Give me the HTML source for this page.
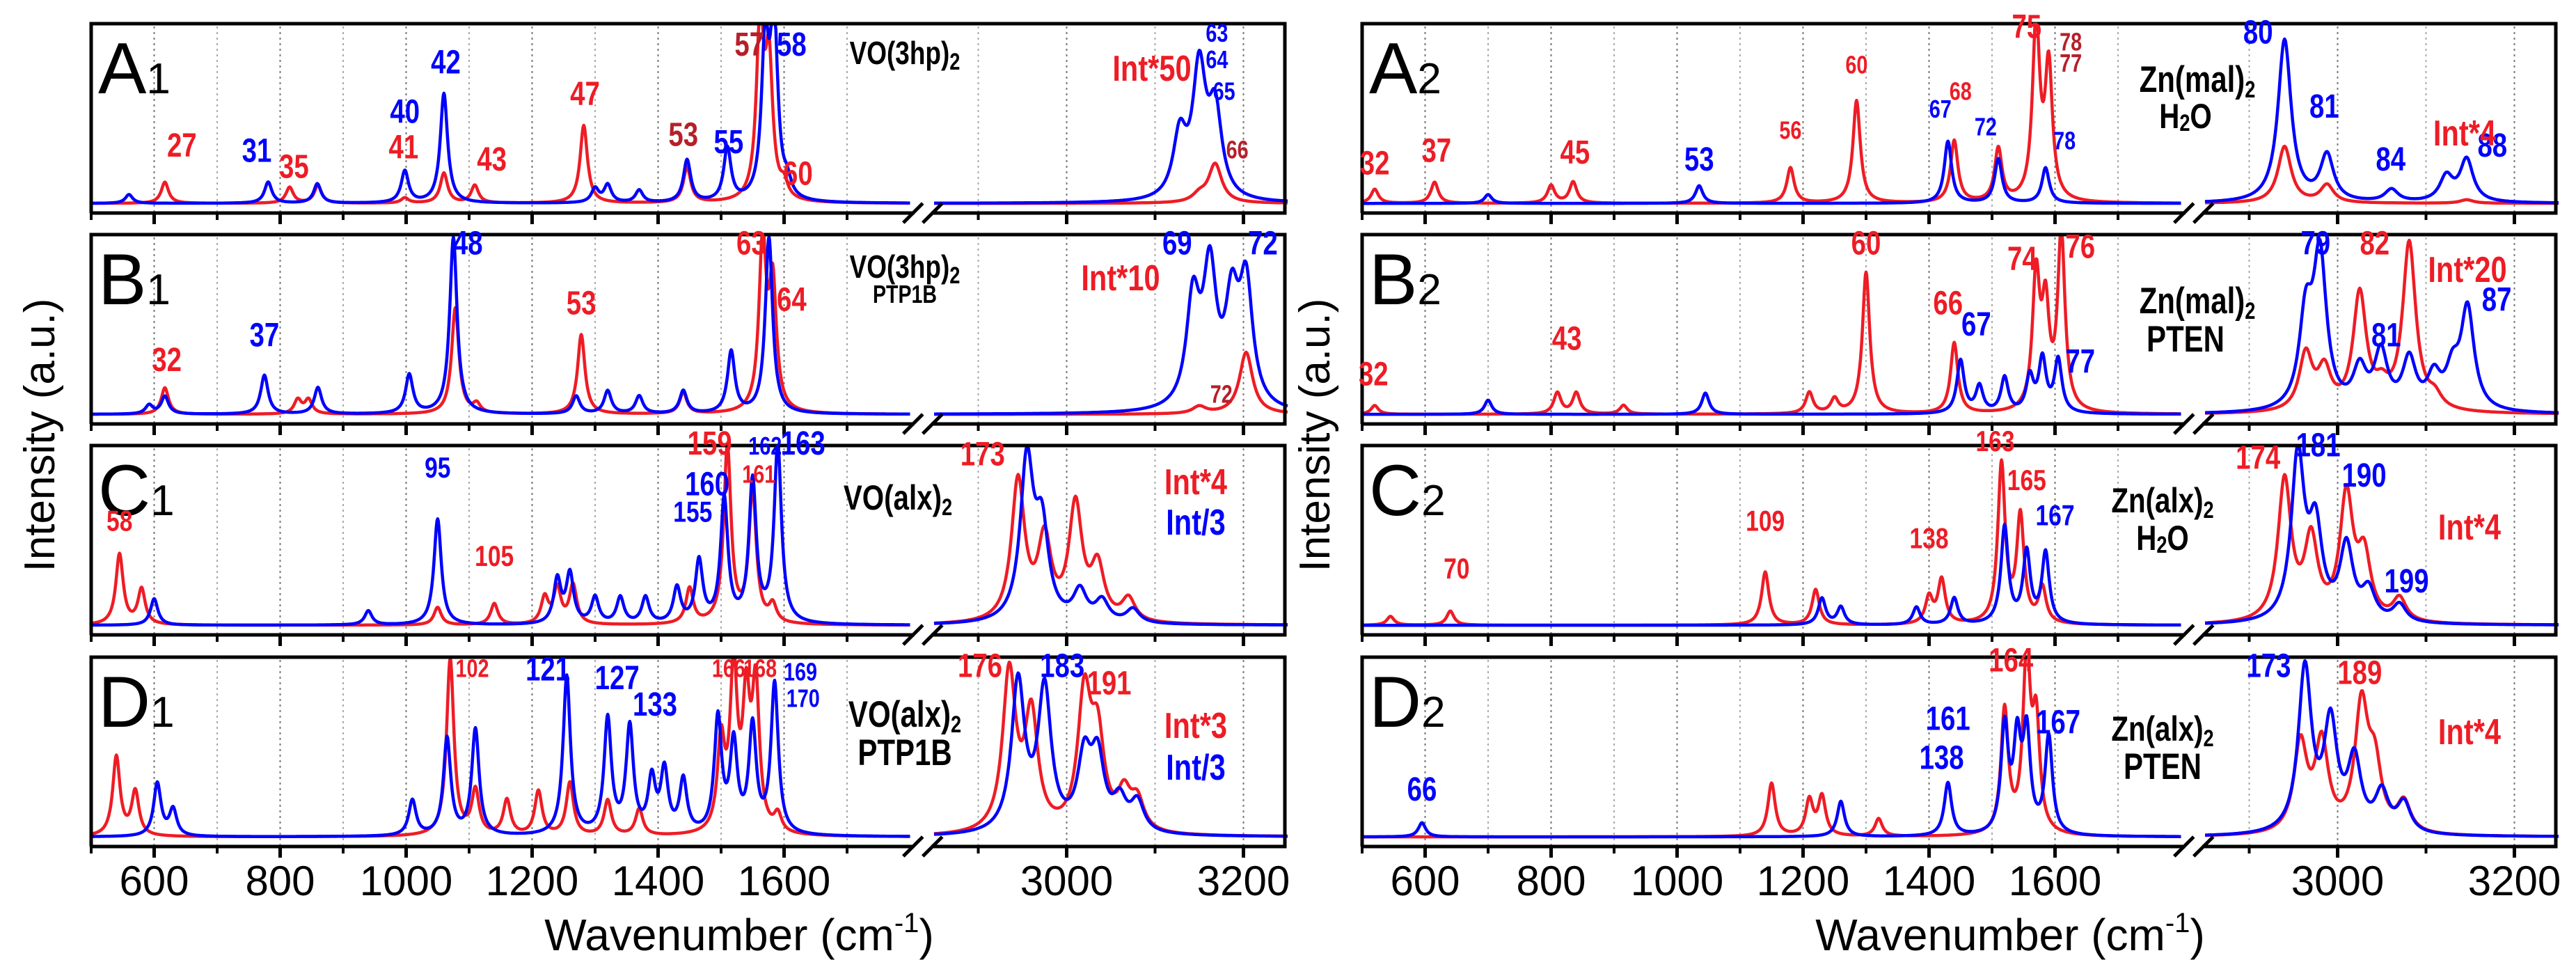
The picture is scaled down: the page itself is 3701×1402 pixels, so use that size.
<!DOCTYPE html>
<html><head><meta charset="utf-8"><style>
html,body{margin:0;padding:0;background:#fff}
svg{display:block}
text{font-family:"Liberation Sans",sans-serif}
.nar{font-family:"Liberation Sans Narrow","Liberation Sans",sans-serif;font-weight:bold}
</style></head><body>
<svg id="fig" width="3701" height="1402" viewBox="0 0 3701 1402" xmlns="http://www.w3.org/2000/svg">
<g id="layer"></g>
</svg>
<script>
// x-axis tick values
const majorTicks = [600, 800, 1000, 1200, 1400, 1600, 3000, 3200];
const minorTicks = [500, 700, 900, 1100, 1300, 1500, 1700, 2900, 3100];
const gridTicks = [600, 700, 800, 900, 1000, 1100, 1200, 1300, 1400, 1500, 1600, 1700, 2900, 3000, 3100, 3200];
// peaks: [center cm-1, relative height]
const A1_red = [[617,0.12],[815,0.09],[860,0.1],[998,0.03],[1060,0.17],[1109,0.1],[1282,0.44],[1446,0.2],[1562,1.0],[1576,0.75],[1600,0.08],[3150,0.04],[3168,0.22]];
const A1_blue = [[560,0.05],[781,0.12],[859,0.11],[998,0.18],[1060,0.62],[1300,0.08],[1320,0.1],[1370,0.07],[1446,0.24],[1510,0.3],[1570,0.85],[1584,1.0],[1605,0.08],[3128,0.35],[3150,0.72],[3168,0.48]];
const B1_red = [[617,0.15],[828,0.08],[845,0.08],[1078,0.6],[1112,0.05],[1278,0.45],[1440,0.12],[1566,0.95],[1582,0.7],[3150,0.04],[3203,0.35]];
const B1_blue = [[592,0.05],[617,0.1],[775,0.22],[860,0.15],[1005,0.22],[1075,1.0],[1270,0.1],[1320,0.13],[1370,0.1],[1440,0.13],[1516,0.35],[1576,1.0],[3143,0.6],[3162,0.75],[3187,0.55],[3203,0.68]];
const C1_red = [[545,0.4],[580,0.2],[1050,0.1],[1140,0.12],[1220,0.15],[1240,0.2],[1265,0.22],[1450,0.2],[1510,1.0],[1550,0.75],[1582,0.1],[2945,0.8],[2975,0.45],[3010,0.65],[3035,0.3],[3070,0.13]];
const C1_blue = [[600,0.15],[940,0.08],[1050,0.6],[1240,0.25],[1260,0.28],[1300,0.15],[1340,0.15],[1380,0.15],[1430,0.2],[1465,0.35],[1505,0.7],[1550,0.8],[1590,1.0],[2955,0.9],[2972,0.5],[3015,0.17],[3040,0.12],[3075,0.08]];
const D1_red = [[540,0.45],[570,0.25],[1070,1.0],[1110,0.25],[1160,0.2],[1210,0.25],[1260,0.3],[1320,0.2],[1370,0.15],[1500,0.5],[1520,0.9],[1540,0.7],[1555,0.8],[1590,0.1],[2935,0.9],[2960,0.65],[3020,0.75],[3035,0.5],[3065,0.2],[3080,0.17]];
const D1_blue = [[605,0.3],[630,0.15],[1010,0.2],[1065,0.55],[1110,0.6],[1255,0.9],[1320,0.65],[1355,0.6],[1390,0.3],[1410,0.35],[1440,0.3],[1495,0.65],[1520,0.5],[1550,0.6],[1585,0.85],[2945,0.85],[2975,0.8],[3020,0.4],[3035,0.4],[3060,0.17],[3080,0.17]];
const A2_red = [[520,0.08],[615,0.12],[800,0.1],[835,0.12],[1180,0.2],[1285,0.58],[1440,0.35],[1510,0.3],[1570,1.0],[1590,0.75],[2940,0.32],[2988,0.1],[3146,0.02]];
const A2_blue = [[700,0.05],[1035,0.1],[1430,0.35],[1510,0.25],[1585,0.2],[2940,0.92],[2988,0.26],[3061,0.07],[3123,0.14],[3146,0.24]];
const B2_red = [[520,0.05],[810,0.12],[840,0.12],[915,0.05],[1210,0.12],[1250,0.08],[1300,0.8],[1440,0.4],[1570,0.75],[1585,0.55],[1610,1.0],[2964,0.32],[2985,0.22],[3025,0.66],[3050,0.1],[3081,0.95],[3110,0.07]];
const B2_blue = [[700,0.08],[1045,0.12],[1450,0.3],[1480,0.15],[1520,0.2],[1560,0.2],[1580,0.3],[1605,0.3],[2964,0.5],[2980,0.85],[3025,0.22],[3049,0.32],[3081,0.28],[3109,0.18],[3130,0.2],[3147,0.57]];
const C2_red = [[545,0.05],[640,0.08],[1140,0.3],[1220,0.2],[1400,0.15],[1420,0.25],[1515,0.9],[1545,0.6],[1580,0.2],[2940,0.8],[2970,0.45],[3010,0.7],[3030,0.35],[3070,0.13]];
const C2_blue = [[1230,0.15],[1260,0.1],[1380,0.1],[1440,0.15],[1520,0.55],[1555,0.4],[1585,0.4],[2955,0.93],[2975,0.5],[3010,0.42],[3035,0.17],[3070,0.1]];
const D2_red = [[1150,0.3],[1210,0.2],[1230,0.22],[1320,0.1],[1520,0.7],[1555,1.0],[1570,0.6],[2958,0.5],[2982,0.5],[3027,0.7],[3042,0.35],[3075,0.17]];
const D2_blue = [[595,0.08],[1260,0.2],[1430,0.3],[1520,0.6],[1540,0.5],[1555,0.55],[1590,0.55],[2963,0.93],[2992,0.6],[3019,0.4],[3050,0.22],[3075,0.17]];
// peak labels: [text, cm-1, height fraction, color, size]
const A1_labels = [["27",644,0.28,"r","L"],["31",763,0.25,"b","L"],["35",822,0.16,"r","L"],["40",998,0.47,"b","L"],["41",996,0.27,"r","L"],["42",1063,0.75,"b","L"],["43",1136,0.2,"r","L"],["47",1284,0.57,"r","L"],["53",1440,0.34,"d","L"],["55",1512,0.3,"b","L"],["57",1545,0.85,"d","L"],["58",1612,0.85,"b","L"],["60",1622,0.12,"r","L"],["63",3170,0.93,"b","S"],["64",3170,0.78,"b","S"],["65",3178,0.6,"b","S"],["66",3193,0.27,"d","S"]];
const B1_labels = [["32",620,0.26,"r","L"],["37",775,0.4,"b","L"],["48",1098,0.92,"b","L"],["53",1278,0.58,"r","L"],["63",1548,0.92,"r","L"],["64",1612,0.6,"r","L"],["69",3125,0.92,"b","L"],["72",3222,0.92,"b","L"],["72",3175,0.08,"d","S"]];
const C1_labels = [["58",545,0.55,"r","M"],["95",1050,0.85,"b","M"],["105",1140,0.35,"r","M"],["155",1455,0.6,"b","M"],["159",1482,0.98,"r","L"],["160",1478,0.75,"b","L"],["161",1560,0.82,"r","S"],["162",1570,0.98,"b","S"],["163",1630,0.98,"b","L"],["173",2905,0.92,"r","L"]];
const D1_labels = [["102",1105,0.92,"r","S"],["121",1225,0.9,"b","L"],["127",1335,0.85,"b","L"],["133",1395,0.7,"b","L"],["166",1512,0.92,"r","S"],["168",1562,0.92,"r","S"],["169",1626,0.9,"b","S"],["170",1630,0.75,"b","S"],["176",2902,0.92,"r","L"],["183",2995,0.92,"b","L"],["191",3048,0.82,"r","L"]];
const A2_labels = [["32",520,0.18,"r","L"],["37",618,0.25,"r","L"],["45",838,0.24,"r","L"],["53",1035,0.2,"b","L"],["56",1180,0.38,"r","S"],["60",1285,0.75,"r","S"],["67",1418,0.5,"b","S"],["68",1450,0.6,"r","S"],["72",1490,0.4,"b","S"],["75",1555,0.95,"r","L"],["78",1625,0.88,"d","S"],["77",1625,0.76,"d","S"],["78",1615,0.32,"b","S"],["80",2910,0.92,"b","L"],["81",2985,0.5,"b","L"],["84",3060,0.2,"b","L"],["88",3175,0.28,"b","L"]];
const B2_labels = [["32",518,0.18,"r","L"],["43",825,0.38,"r","L"],["60",1300,0.92,"r","L"],["66",1430,0.58,"r","L"],["67",1475,0.46,"b","L"],["74",1548,0.83,"r","L"],["76",1640,0.9,"r","L"],["77",1640,0.25,"b","L"],["79",2975,0.92,"b","L"],["82",3042,0.92,"r","L"],["81",3055,0.4,"b","L"],["87",3180,0.6,"b","L"]];
const C2_labels = [["70",650,0.28,"r","M"],["109",1140,0.55,"r","M"],["138",1400,0.45,"r","M"],["163",1505,1.0,"r","M"],["165",1555,0.78,"r","M"],["167",1600,0.58,"b","M"],["174",2910,0.9,"r","L"],["181",2978,0.97,"b","L"],["190",3030,0.8,"b","L"],["199",3078,0.2,"b","L"]];
const D2_labels = [["66",595,0.22,"b","L"],["138",1420,0.4,"b","L"],["161",1430,0.62,"b","L"],["164",1530,0.95,"r","L"],["167",1605,0.6,"b","L"],["173",2922,0.92,"b","L"],["189",3025,0.88,"r","L"]];

const NS = "http://www.w3.org/2000/svg";
const layer = document.getElementById('layer');
const COL = {r:"#ee1c25", b:"#0000ff", d:"#b5202a"};
const SZ = {L:48, M:42, S:36};
const SQ = 0.8;
function mk(tag, attrs, parent){const e=document.createElementNS(NS,tag);for(const k in attrs)e.setAttribute(k,attrs[k]);(parent||layer).appendChild(e);return e;}
function narrowText(x, y, size, color, anchor, parent){
  return mk('text',{x:0,y:0,"font-size":size,"text-anchor":anchor,fill:color,class:"nar",transform:`translate(${x.toFixed(1)},${y.toFixed(1)}) scale(${SQ},1)`},parent);
}
const PW = 1715, PH = 272;
function xScale(px0, cm){ return cm<=1800 ? px0+(cm-500)*0.905 : px0+1211+(cm-2850)*1.27; }
function yScale(py0, v){ return py0+262 - v*254; }
function spectrum(peaks, cm){
  let s=0.015;
  for(const p of peaks){const w = p[0]>2000?9:7; const d=(cm-p[0])/w; s+=p[1]/(1+d*d);}
  return Math.min(s,1.03);
}
function drawSeries(px0, py0, peaks, color, name, g){
  const segs=[[500,1800],[2850,3250]];
  for(const sg of segs){
    let d="";
    for(let cm=sg[0]; cm<=sg[1]; cm+=1){
      d += (cm===sg[0]?"M":"L")+xScale(px0,cm).toFixed(1)+","+yScale(py0,spectrum(peaks,cm)).toFixed(1);
    }
    const p=mk('path',{d:d,fill:"none",stroke:color,"stroke-width":4.5,"stroke-linejoin":"round"},g);
    
    
  }
}
function panel(id, px0, py0, red, blue, labels, letter, sub, names, ints, showX){
  const g=mk('g',{});
  
  
  for(const t of gridTicks){
    const x=xScale(px0,t);
    const major=majorTicks.includes(t);
    const l=mk('line',{x1:x,x2:x,y1:py0+4,y2:py0+PH,stroke:major?"#777":"#aaa","stroke-width":2,"stroke-dasharray":"3,5"},g);
    
    
  }
  drawSeries(px0,py0,red,COL.r,'red-spectrum',g);
  drawSeries(px0,py0,blue,COL.b,'blue-spectrum',g);
  const xb1=xScale(px0,1800)+6, xb2=xScale(px0,2850)-4;
  const fr=mk('path',{d:`M${px0},${py0+PH}V${py0}H${px0+PW}V${py0+PH}H${xb2}M${xb1},${py0+PH}H${px0}`,fill:"none",stroke:"#000","stroke-width":5},g);
  
  
  const bx=(xb1+xb2)/2;
  for(const o of [-14,14]){
    const b=mk('line',{x1:bx+o-14,y1:py0+PH+14,x2:bx+o+14,y2:py0+PH-14,stroke:"#000","stroke-width":5},g);
    
    
  }
  for(const t of majorTicks){const x=xScale(px0,t);const l=mk('line',{x1:x,x2:x,y1:py0+PH,y2:py0+PH+16,stroke:"#000","stroke-width":5},g);}
  for(const t of minorTicks){const x=xScale(px0,t);const l=mk('line',{x1:x,x2:x,y1:py0+PH,y2:py0+PH+10,stroke:"#000","stroke-width":4},g);}
  if(showX){
    for(const t of majorTicks){
      const tx=mk('text',{x:xScale(px0,t),y:py0+PH+70,"font-size":60,"text-anchor":"middle",fill:"#000"},g);
      tx.textContent=t;
      
      
    }
  }
  const pl=mk('text',{x:px0+10,y:py0+100,"font-size":104,fill:"#000"},g);
  
  
  pl.innerHTML=letter+'<tspan font-size="62">'+sub+'</tspan>';
  for(const lb of labels){
    const t=narrowText(xScale(px0,lb[1]),yScale(py0,lb[2]),SZ[lb[4]],COL[lb[3]],"middle",g);
    t.textContent=lb[0];
    
    
  }
  for(const n of names){
    const t=narrowText(n[1],py0+n[2],n[3]*1.05,"#000","middle",g);
    t.innerHTML=n[0];
    
    
  }
  for(const n of ints){
    const t=narrowText(n[1],py0+n[2],52,COL[n[3]],"middle",g);
    t.textContent=n[0];
    
    
  }
}
const S2='<tspan font-size="34" dy="8">2</tspan>';
const L=131, R=1957, T=[34,337,640,944];
panel('A1',L,T[0],A1_red,A1_blue,A1_labels,'A','1',[['VO(3hp)'+S2,1300,58,44]],[['Int*50',1655,82,'r']],false);
panel('B1',L,T[1],B1_red,B1_blue,B1_labels,'B','1',[['VO(3hp)'+S2,1300,62,44],['PTP1B',1300,98,34]],[['Int*10',1610,80,'r']],false);
panel('C1',L,T[2],C1_red,C1_blue,C1_labels,'C','1',[['VO(alx)'+S2,1290,92,48]],[['Int*4',1718,70,'r'],['Int/3',1718,128,'b']],false);
panel('D1',L,T[3],D1_red,D1_blue,D1_labels,'D','1',[['VO(alx)'+S2,1300,100,50],['PTP1B',1300,155,50]],[['Int*3',1718,116,'r'],['Int/3',1718,176,'b']],true);
panel('A2',R,T[0],A2_red,A2_blue,A2_labels,'A','2',[['Zn(mal)'+S2,3157,98,50],['H<tspan font-size="34" dy="4">2</tspan><tspan dy="-4">O</tspan>',3140,150,48]],[['Int*4',3541,175,'r']],false);
panel('B2',R,T[1],B2_red,B2_blue,B2_labels,'B','2',[['Zn(mal)'+S2,3157,113,50],['PTEN',3140,168,50]],[['Int*20',3545,68,'r']],false);
panel('C2',R,T[2],C2_red,C2_blue,C2_labels,'C','2',[['Zn(alx)'+S2,3107,96,48],['H<tspan font-size="34" dy="4">2</tspan><tspan dy="-4">O</tspan>',3107,150,48]],[['Int*4',3548,135,'r']],false);
panel('D2',R,T[3],D2_red,D2_blue,D2_labels,'D','2',[['Zn(alx)'+S2,3107,120,48],['PTEN',3107,175,50]],[['Int*4',3548,125,'r']],true);
for(const cx of [1062, 2888]){
  const t=mk('text',{x:cx,y:1365,"font-size":64,"text-anchor":"middle",fill:"#000"});
  t.innerHTML='Wavenumber (cm<tspan font-size="40" dy="-26">-1</tspan><tspan dy="26">)</tspan>';
  
  
}
for(const cx of [78, 1910]){
  const t=mk('text',{x:cx,y:625,"font-size":62,"text-anchor":"middle",fill:"#000",transform:`rotate(-90 ${cx} 625)`});
  t.textContent='Intensity (a.u.)';
  
  
}
</script>
</body></html>
